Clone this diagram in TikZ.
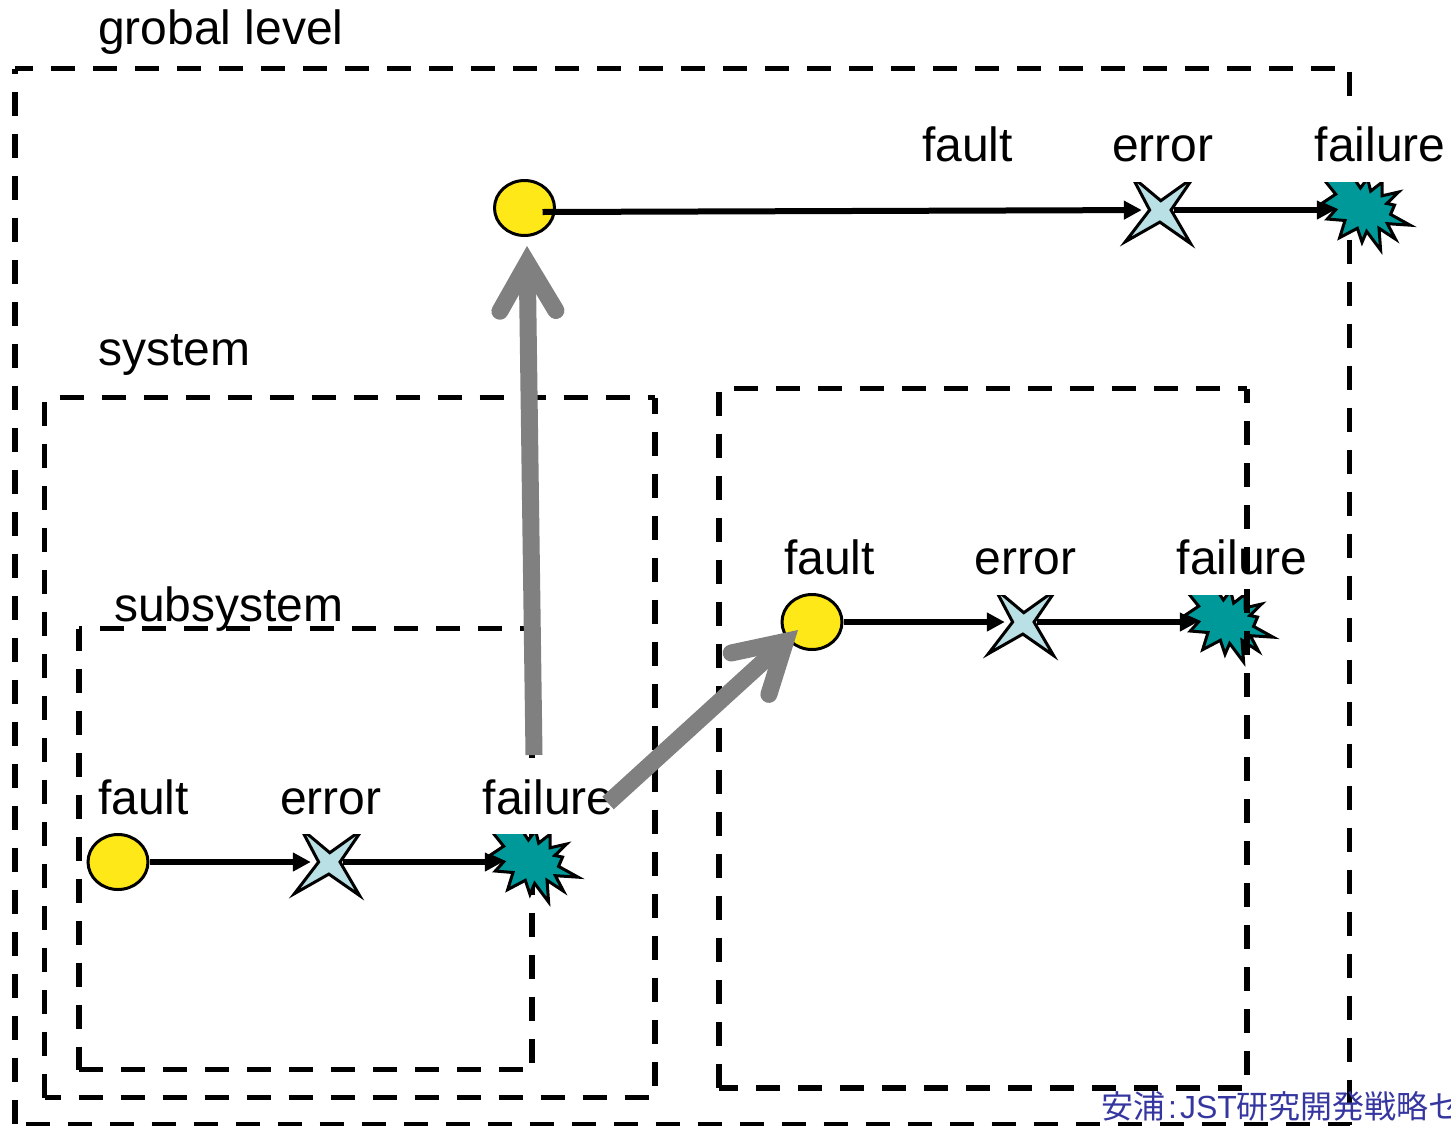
\documentclass[tikz,border=0pt]{standalone}
\usepackage{fontspec}
\setmainfont{Liberation Sans}
\newfontfamily\cjk{Noto Sans CJK JP}
\usetikzlibrary{arrows.meta,shapes.geometric}
\definecolor{faultyellow}{HTML}{FFE817}
\definecolor{errorblue}{HTML}{B9E0E4}
\definecolor{failureteal}{HTML}{009999}
\definecolor{creditblue}{HTML}{3636A0}
\definecolor{spreadgray}{HTML}{808080}
\tikzset{
  lbl/.style={anchor=base west,inner sep=0pt,font=\fontsize{48}{50}\selectfont},
  maskedlbl/.style={lbl,fill=white,text height=56pt,text depth=20pt},
  levelline/.style={draw,line width=5.5pt,dash pattern=on 24pt off 18pt,dash phase=#1},
  faultmark/.style={draw,ellipse,fill=faultyellow,line width=3pt,inner sep=0pt,minimum width=60pt,minimum height=55pt},
  errornode/.style={inner sep=0pt,minimum size=32pt},
  failurenode/.style={inner sep=0pt,minimum size=54pt},
  flow/.style={draw,line width=6pt,-{Triangle[length=18pt,width=18pt]}},
  spread/.style={draw=spreadgray,line width=17pt,-{Straight Barb[length=48pt,width=56pt,line cap=round,line join=miter]}},
  errorstar/.pic={\path[draw=black,fill=errorblue,line width=3pt,miter limit=10,scale=0.93] (-28,-36) -- (3,-10) -- (38,-35) -- (14,0) -- (35,36) -- (2,13) -- (-35,34) -- (-9,0) -- cycle;},
  failurestar/.pic={\path[draw=black,fill=failureteal,line width=3pt,miter limit=10,scale=0.93] (-42,-34) -- (-28.3,-17) -- (-43.3,-7) -- (-28.3,-0.3) -- (-37.3,9.7) -- (-18.3,11.3) -- (-24,29.7) -- (-5,19.7) -- (0,34.7) -- (5,23) -- (20,43) -- (18.3,19.7) -- (36,31.3) -- (27.3,14.7) -- (51.7,16.3) -- (30.7,4.7) -- (35,-5.3) -- (26.7,-7) -- (39.3,-19.3) -- (21.7,-15.3) -- (21.7,-30) -- (9.3,-20.3) -- (6,-34) -- (-1.7,-23.7) -- (-10,-36) -- cycle;}
}
\begin{document}
\begin{tikzpicture}[x=1pt,y=-1pt]
\useasboundingbox (0,0) rectangle (1451,1125);
% grobal level
\path[levelline=6] (15,68.5) -- (1349.5,68.5);
\path[levelline=19] (15,68.5) -- (15,1124.5);
\path[levelline=39] (1349.5,68.5) -- (1349.5,1124.5);
\path[levelline=31.5] (15,1124.5) -- (1349.5,1124.5);
% system
\path[levelline=27] (44.5,397.5) -- (655,397.5);
\path[levelline=38] (44.5,397.5) -- (44.5,1097.5);
\path[levelline=8] (655,397.5) -- (655,1097.5);
\path[levelline=8] (44.5,1097.5) -- (655,1097.5);
% subsystem
\path[levelline=21] (79,628.5) -- (532,628.5);
\path[levelline=2] (79,628.5) -- (79,1069.5);
\path[levelline=10] (532,628.5) -- (532,1069.5);
\path[levelline=0] (79,1069.5) -- (532,1069.5);
% marks
\pic at (327,862) {errorstar};
\pic at (530,862) {failurestar};
\pic at (1158,210) {errorstar};
\pic at (1362,210) {failurestar};
\pic at (1021,622) {errorstar};
\pic at (1225,622) {failurestar};
\node[errornode] (e1) at (327,862) {};
\node[failurenode] (b1) at (530,862) {};
\node[errornode] (e2) at (1021,622) {};
\node[failurenode] (b2) at (1225,622) {};
\node[errornode] (e3) at (1158,210) {};
\node[failurenode] (b3) at (1362,210) {};
% labels
\node[lbl] (grobal) at (98,44.5) {grobal level};
\node[lbl] (sys) at (98,365.5) {system};
\node[lbl] (subsys) at (114,621) {subsystem};
\node[maskedlbl] (fa3) at (922,161.5) {fault};
\node[maskedlbl] (er3) at (1112,161.5) {error};
\node[maskedlbl] (fl3) at (1314.5,161.5) {failure};
\node[maskedlbl] (fa2) at (784,574.5) {fault};
\node[maskedlbl] (er2) at (974.5,574.5) {error};
\node[maskedlbl] (fl2) at (1176.5,574.5) {failure};
\node[maskedlbl] (fa1) at (98,814) {fault};
\node[maskedlbl] (er1) at (280,814) {error};
\node[maskedlbl] (fl1) at (482.5,814) {failure};
\node[faultmark] (f1) at (118,862) {};
\node[faultmark] (f2) at (812,622) {};
\node[faultmark] (f3) at (524.5,208) {};
% right box
\path[levelline=27.5] (719,388.5) -- (1247,388.5);
\path[levelline=39] (719,388.5) -- (719,1088);
\path[levelline=9.3] (1247,388.5) -- (1247,1088);
\path[levelline=4.6] (719,1088) -- (1247,1088);
% connectors
\path[flow] (f1) -- (e1);
\path[flow] (e1) -- (b1);
\path[flow] (f2) -- (e2);
\path[flow] (e2) -- (b2);
\path[flow] ([xshift=18pt,yshift=-4pt]f3.center) -- (e3);
\path[flow] (e3) -- (b3);
\coordinate (riseA) at (534,755);
\coordinate (riseB) at (608,803);
\path[spread] (riseA) -- ([xshift=2.5pt,yshift=-9pt]f3.south);
\path[spread] (riseB) -- ([xshift=-14pt,yshift=-8pt]f2.center);
\node[anchor=base west,inner sep=0pt,text=creditblue,font=\fontsize{32}{34}\selectfont] (credit) at (1101,1118) {{\cjk 安浦}\kern3pt:\kern3pt JST{\cjk 研究開発戦略セ}};
\end{tikzpicture}
\end{document}
